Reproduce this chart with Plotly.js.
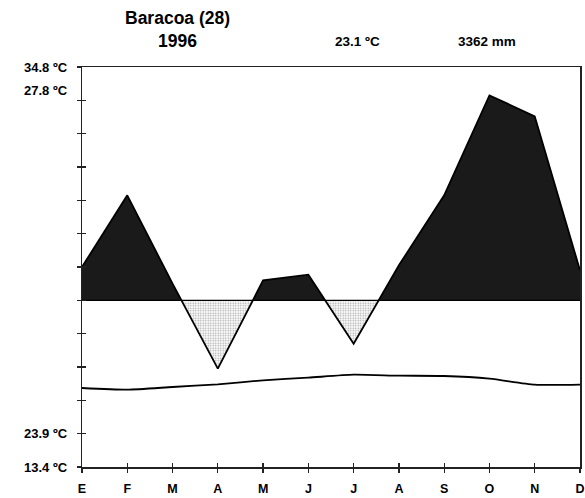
<!DOCTYPE html>
<html>
<head>
<meta charset="utf-8">
<script src="https://cdn.plot.ly/plotly-3.0.1.min.js"></script>
<style>html,body{margin:0;padding:0;background:#fff;}#chart{width:585px;height:498px;}</style>
</head>
<body>
<div id="chart"></div>
<script>
// Month labels (Spanish initials)
const months = ["E","F","M","A","M","J","J","A","S","O","N","D"];
// Precipitation curve, in diagram axis units (baseline = 50)
const precip = [60, 81.5, 55, 29.5, 56, 57.7, 37, 60.5, 81.5, 111.5, 105.2, 59];
// Mean monthly temperature curve, in diagram axis units
const temp = [23.7, 23.2, 24.0, 24.8, 26.0, 26.8, 27.7, 27.4, 27.3, 26.5, 24.7, 24.7];
const baseline = 50;
// Side labels
const sideLabels = ["34.8 ºC", "27.8 ºC", "23.9 ºC", "13.4 ºC"];
const sideLabelY = [120, 113, 10, 0];
const titleLines = ["Baracoa (28)", "1996"];
const meanTemp = "23.1 ºC";
const totalPrecip = "3362 mm";
const yTicks = [0,10,20,30,40,50,60,70,80,90,100,110,120];

const idx = months.map((m, i) => i);

// build x/y including crossing points with the baseline
const xs = [], ps = [];
for (let i = 0; i < precip.length; i++) {
  xs.push(i); ps.push(precip[i]);
  if (i < precip.length - 1) {
    const a = precip[i] - baseline, b = precip[i + 1] - baseline;
    if (a * b < 0) {
      const t = (baseline - precip[i]) / (precip[i + 1] - precip[i]);
      xs.push(i + t); ps.push(baseline);
    }
  }
}
const base = xs.map(() => baseline);
const upper = ps.map(v => Math.max(v, baseline));
const lower = ps.map(v => Math.min(v, baseline));
const hid = {width: 0, color: "rgba(0,0,0,0)"};

const traces = [
  {x: xs, y: base, mode: "lines", line: hid, hoverinfo: "skip"},
  {x: xs, y: upper, mode: "lines", line: hid, fill: "tonexty", fillcolor: "#1a1a1a", hoverinfo: "skip"},
  {x: xs, y: base, mode: "lines", line: hid, hoverinfo: "skip"},
  {x: xs, y: lower, mode: "lines", line: hid, fill: "tonexty", fillcolor: "#ffffff",
   fillpattern: {shape: ".", size: 2.5, solidity: 0.35, fgcolor: "#a8a8a8", bgcolor: "#ffffff"}, hoverinfo: "skip"},
  {x: xs, y: base, mode: "lines", line: {width: 1.3, color: "#000"}, hoverinfo: "skip"},
  {x: idx, y: precip, mode: "lines", line: {width: 1.8, color: "#000"}},
  {x: idx, y: temp, mode: "lines", line: {width: 1.8, color: "#000", shape: "spline", smoothing: 0.6}},
  {x: idx, y: temp, xaxis: "x2", yaxis: "y2", mode: "lines", line: hid, opacity: 0, hoverinfo: "skip"}
];

const font = {family: "Liberation Sans, Arial, sans-serif", color: "#000"};
const px = v => (v - 82) / 498;
const py = v => (467 - v) / 400;

const layout = {
  width: 585, height: 498,
  margin: {l: 82, r: 5, t: 67, b: 31, pad: 0},
  paper_bgcolor: "#fff", plot_bgcolor: "#fff",
  showlegend: false,
  xaxis: {range: [0, 11], tickvals: idx, ticktext: months.map(m => "<b>" + m + "</b>"),
    ticks: "outside", ticklen: 4, tickwidth: 1.2, tickcolor: "#222", ticklabelstandoff: 5,
    showline: true, linecolor: "#222", linewidth: 1.5, mirror: true,
    showgrid: false, zeroline: false, tickfont: Object.assign({size: 12.5}, font), fixedrange: true},
  yaxis: {range: [0, 120], tickvals: yTicks,
    ticks: "outside", ticklen: 4, tickwidth: 1.2, tickcolor: "#222", showticklabels: false,
    showline: true, linecolor: "#222", linewidth: 1.5, mirror: true,
    showgrid: false, zeroline: false, fixedrange: true},
  xaxis2: {range: [0, 11], overlaying: "x", tickvals: idx, ticks: "inside", ticklen: 4, tickwidth: 1.2,
    tickcolor: "#222", showticklabels: false, showgrid: false, zeroline: false, showline: false, side: "bottom", fixedrange: true},
  yaxis2: {range: [0, 120], overlaying: "y", tickvals: yTicks, ticks: "inside", ticklen: 4, tickwidth: 1.2,
    tickcolor: "#222", showticklabels: false, showgrid: false, zeroline: false, showline: false, side: "left", fixedrange: true},
  annotations: sideLabels.map((t, i) => ({
    text: "<b>" + t + "</b>", xref: "paper", yref: "y", x: -0.024, y: sideLabelY[i],
    xanchor: "right", yanchor: "middle", showarrow: false, font: Object.assign({size: 13}, font)
  })).concat([
    {text: "<b>" + titleLines[0] + "</b>", xref: "paper", yref: "paper", x: px(177), y: py(18),
     showarrow: false, xanchor: "center", yanchor: "middle", font: Object.assign({size: 17.5}, font)},
    {text: "<b>" + titleLines[1] + "</b>", xref: "paper", yref: "paper", x: px(177), y: py(41),
     showarrow: false, xanchor: "center", yanchor: "middle", font: Object.assign({size: 17.5}, font)},
    {text: "<b>" + meanTemp + "</b>", xref: "paper", yref: "paper", x: px(357), y: py(41),
     showarrow: false, xanchor: "center", yanchor: "middle", font: Object.assign({size: 13.5}, font)},
    {text: "<b>" + totalPrecip + "</b>", xref: "paper", yref: "paper", x: px(487), y: py(41),
     showarrow: false, xanchor: "center", yanchor: "middle", font: Object.assign({size: 13.5}, font)}
  ])
};

Plotly.newPlot("chart", traces, layout, {displayModeBar: false, staticPlot: true});
</script>
</body>
</html>
